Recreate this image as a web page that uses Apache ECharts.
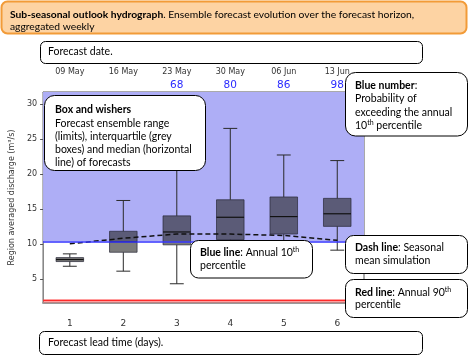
<!DOCTYPE html>
<html>
<head>
<meta charset="utf-8">
<script src="https://cdn.jsdelivr.net/npm/echarts@6/dist/echarts.min.js"></script>
<style>
html,body{margin:0;padding:0;background:#fff;}
#chart{width:469px;height:356px;}
</style>
</head>
<body>
<div id="chart"></div>
<script>
// ---- data ----
var leadDays = ['1', '2', '3', '4', '5', '6'];
var forecastDates = ['09 May', '16 May', '23 May', '30 May', '06 Jun', '13 Jun'];
var probExceed = ['', '', '68', '80', '86', '98'];
var boxMin = [6.8, 6.1, 4.3, 7.0, 8.0, 9.1];
var boxQ1 = [7.47, 8.8, 9.86, 10.6, 11.4, 12.5];
var boxMed = [7.76, 10.3, 11.7, 13.8, 13.9, 14.3];
var boxQ3 = [8.04, 11.8, 14.0, 16.3, 16.7, 16.5];
var boxMax = [8.57, 16.2, 24.0, 26.5, 22.7, 21.9];
var seasonalMean = [10.0, 10.8, 11.4, 11.4, 11.2, 10.5];
var annual10th = 10.37;
var annual90th = 1.9;
var yTicks = [5, 10, 15, 20, 25, 30];
var yMin = 1.55, yMax = 31.7;

var boxData = leadDays.map(function (d, i) {
  return [i, boxMin[i], boxQ1[i], boxMed[i], boxQ3[i], boxMax[i]];
});

var chart = echarts.init(document.getElementById('chart'), null, {renderer: 'canvas'});
var TXT = 'Lato, "Liberation Sans", sans-serif';
var AX = '"DejaVu Sans", sans-serif';

function renderBox(params, api) {
  var x = api.value(0);
  var pMin = api.coord([x, api.value(1)]);
  var pQ1 = api.coord([x, api.value(2)]);
  var pMed = api.coord([x, api.value(3)]);
  var pQ3 = api.coord([x, api.value(4)]);
  var pMax = api.coord([x, api.value(5)]);
  var band = api.size([1, 0])[0];
  var bw = band * 0.515, cw = band * 0.26;
  var cx = pMed[0];
  var ls = {stroke: '#2a2a2a', lineWidth: 1, fill: null};
  return {
    type: 'group',
    children: [
      {type: 'line', shape: {x1: cx, y1: pQ3[1], x2: cx, y2: pMax[1]}, style: ls},
      {type: 'line', shape: {x1: cx, y1: pQ1[1], x2: cx, y2: pMin[1]}, style: ls},
      {type: 'line', shape: {x1: cx - cw / 2, y1: pMax[1], x2: cx + cw / 2, y2: pMax[1]}, style: ls},
      {type: 'line', shape: {x1: cx - cw / 2, y1: pMin[1], x2: cx + cw / 2, y2: pMin[1]}, style: ls},
      {type: 'rect', shape: {x: cx - bw / 2, y: pQ3[1], width: bw, height: pQ1[1] - pQ3[1]},
        style: {fill: 'rgba(35,35,35,0.6)', stroke: 'rgba(40,40,55,0.7)', lineWidth: 1}},
      {type: 'line', shape: {x1: cx - bw / 2, y1: pMed[1], x2: cx + bw / 2, y2: pMed[1]},
        style: {stroke: '#111', lineWidth: 1.2}}
    ]
  };
}

function box(x, y, w, h, r) {
  return {type: 'rect', shape: {x: x, y: y, width: w, height: h, r: r},
    style: {fill: '#fff', stroke: '#000', lineWidth: 1}, z: 100};
}
function txt(x, y, text, size, lh) {
  return {type: 'text', x: x, y: y, z: 101,
    style: {text: text, fontFamily: TXT, fontSize: size, lineHeight: lh, fill: '#000',
      textVerticalAlign: 'top',
      rich: {
        b: {fontWeight: 'bold', fontFamily: TXT, fontSize: size, lineHeight: lh},
        s: {fontSize: 7, fontFamily: TXT, verticalAlign: 'top', lineHeight: lh - 3}
      }}};
}

var option = {
  animation: false,
  grid: {left: 41, right: 105, top: 92, bottom: 53, show: true, borderColor: '#555', borderWidth: 1, backgroundColor: 'transparent'},
  xAxis: [
    {type: 'category', data: leadDays, position: 'bottom',
      axisLine: {lineStyle: {color: '#999', width: 2}},
      axisTick: {alignWithLabel: true, length: 3, lineStyle: {color: '#555'}},
      axisLabel: {fontFamily: AX, fontSize: 9, color: '#333', margin: 16, interval: 0}},
    {type: 'category', data: forecastDates, position: 'top',
      axisLine: {lineStyle: {color: '#888'}},
      axisTick: {alignWithLabel: true, length: 3, lineStyle: {color: '#555'}},
      axisLabel: {fontFamily: AX, fontSize: 8, color: '#333', margin: 16, interval: 0}},
    {type: 'category', data: probExceed, position: 'top',
      axisLine: {show: false}, axisTick: {show: false},
      axisLabel: {fontFamily: AX, fontSize: 10.5, color: '#2a2aff', margin: 1, interval: 0}}
  ],
  yAxis: {
    type: 'value', min: yMin, max: yMax,
    name: 'Region averaged discharge (m³/s)', nameLocation: 'middle', nameGap: 27,
    nameTextStyle: {fontFamily: AX, fontSize: 8, color: '#333'},
    axisLine: {show: true, lineStyle: {color: '#888'}},
    axisTick: {show: true, length: 3, customValues: yTicks, lineStyle: {color: '#555'}},
    axisLabel: {fontFamily: AX, fontSize: 8, color: '#333', margin: 6, customValues: yTicks},
    splitLine: {show: false}
  },
  series: [
    {type: 'custom', renderItem: renderBox, data: boxData, xAxisIndex: 0, z: 2,
      encode: {x: 0, y: [1, 2, 3, 4, 5]}},
    {type: 'line', data: seasonalMean, xAxisIndex: 0, z: 3, symbol: 'none',
      lineStyle: {color: '#111', width: 1.5, type: [5, 3]},
      markArea: {silent: true, itemStyle: {color: '#aeaef6', opacity: 1},
        data: [[{yAxis: annual10th}, {yAxis: yMax}]]},
      markLine: {silent: true, symbol: 'none', label: {show: false},
        data: [
          {yAxis: annual10th, lineStyle: {color: '#3333ff', width: 1.5, type: 'solid'}},
          {yAxis: annual90th, lineStyle: {color: 'rgba(255,90,90,0.35)', width: 4, type: 'solid'}},
          {yAxis: annual90th, lineStyle: {color: '#ff2a2a', width: 1.3, type: 'solid'}}
        ]}}
  ],
  graphic: [
    {type: 'rect', shape: {x: 1.5, y: 1.5, width: 465, height: 32, r: 6}, z: 100,
      style: {fill: '#fdd3a3', stroke: '#f29b38', lineWidth: 2}},
    txt(10, 8, '{b|Sub-seasonal outlook hydrograph}. Ensemble forecast evolution over the forecast horizon,\naggregated weekly', 10.3, 12.5),
    box(40.5, 41.5, 382, 22, 5),
    txt(48, 46, 'Forecast date.', 10.5, 12),
    box(44.5, 95.5, 161, 75, 10),
    txt(55, 103.5, '{b|Box and wishers}\nForecast ensemble range\n(limits), interquartile (grey\nboxes) and median (horizontal\nline) of forecasts', 10.5, 13.1),
    box(345.5, 72.5, 122, 63.5, 10),
    txt(355, 79, '{b|Blue number}:\nProbability of\nexceeding the annual\n10{s|th} percentile', 10.5, 13.3),
    box(190.5, 240.5, 122, 37.5, 8),
    txt(200, 246.5, '{b|Blue line}: Annual 10{s|th}\npercentile', 10.5, 13),
    box(345.5, 235.5, 122, 38, 8),
    txt(355, 241.5, '{b|Dash line}: Seasonal\nmean simulation', 10.5, 12.7),
    box(345.5, 279.5, 122, 38, 8),
    txt(355, 286, '{b|Red line}: Annual 90{s|th}\npercentile', 10.5, 12.7),
    box(39.5, 331.5, 383, 23, 5),
    txt(48, 337, 'Forecast lead time (days).', 10.5, 12)
  ]
};
chart.setOption(option);
</script>
</body>
</html>
